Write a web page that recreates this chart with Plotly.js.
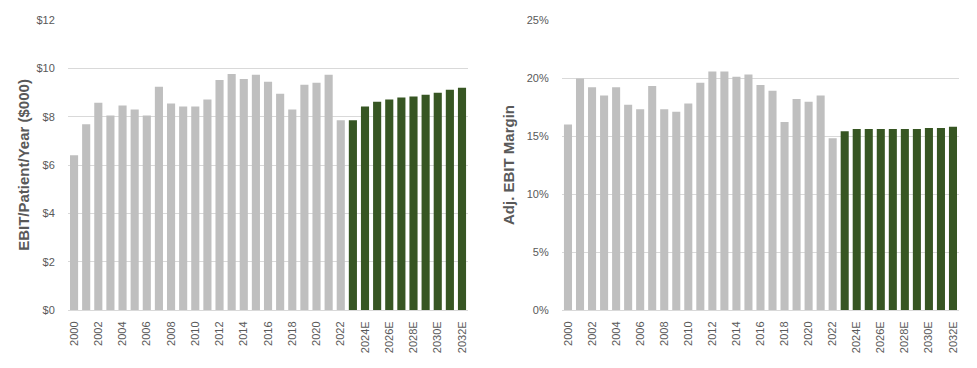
<!DOCTYPE html>
<html>
<head>
<meta charset="utf-8">
<script src="https://cdn.plot.ly/plotly-3.0.1.min.js"></script>
<style>
html,body{margin:0;padding:0;background:#fff;}
#chart{width:977px;height:368px;}
</style>
</head>
<body>
<div id="chart"></div>
<script>
const years = ["2000","2001","2002","2003","2004","2005","2006","2007","2008","2009","2010",
  "2011","2012","2013","2014","2015","2016","2017","2018","2019","2020","2021","2022",
  "2023E","2024E","2025E","2026E","2027E","2028E","2029E","2030E","2031E","2032E"];
const histCount = 23; // 2000-2022 historical (grey), rest projected (green)

const ebitPerPatient = [6.40,7.69,8.58,8.05,8.46,8.30,8.05,9.24,8.54,8.42,8.42,
  8.71,9.52,9.77,9.56,9.73,9.44,8.95,8.30,9.32,9.40,9.73,7.85,
  7.85,8.42,8.62,8.71,8.79,8.83,8.91,8.99,9.11,9.20];

const ebitMargin = [0.160,0.1995,0.192,0.185,0.192,0.177,0.173,0.193,0.173,0.171,0.178,
  0.196,0.2055,0.2055,0.201,0.203,0.194,0.189,0.162,0.182,0.1795,0.185,0.148,
  0.154,0.156,0.156,0.156,0.156,0.156,0.156,0.157,0.157,0.158];

const leftTicks = [0,2,4,6,8,10,12];
const leftTickText = ["$0","$2","$4","$6","$8","$10","$12"];
const rightTicks = [0,0.05,0.10,0.15,0.20,0.25];
const rightTickText = ["0%","5%","10%","15%","20%","25%"];

const GREY = "#bfbfbf", GREEN = "#375623";
const colors = years.map((y,i) => i < histCount ? GREY : GREEN);
const xTickVals = years.filter((y,i) => i % 2 === 0);

const FONT = "Liberation Sans, Arial, sans-serif";
const TXT = "#595959";
const GRID = "#d9d9d9";

const traces = [
  {type:"bar", x:years, y:ebitPerPatient, marker:{color:colors}, xaxis:"x", yaxis:"y",
   hoverinfo:"x+y"},
  {type:"bar", x:years, y:ebitMargin, marker:{color:colors}, xaxis:"x2", yaxis:"y2",
   hoverinfo:"x+y"}
];

const xCommon = {
  type:"category", tickmode:"array", tickvals:xTickVals, tickangle:-90,
  tickfont:{family:FONT,size:11,color:TXT}, showgrid:false, zeroline:false,
  showline:true, linecolor:GRID, linewidth:1, ticks:"outside", ticklen:6,
  tickcolor:"rgba(0,0,0,0)", fixedrange:true, automargin:false
};
const yCommon = {
  tickmode:"array", showgrid:true, gridcolor:GRID, gridwidth:1, zeroline:false,
  showline:false, tickfont:{family:FONT,size:11,color:TXT}, ticks:"outside",
  ticklen:10, tickcolor:"rgba(0,0,0,0)", fixedrange:true, automargin:false
};

const layout = {
  width:977, height:368,
  margin:{l:68, r:18, t:20, b:58},
  paper_bgcolor:"#fff", plot_bgcolor:"#fff",
  showlegend:false, bargap:0.33,
  xaxis: Object.assign({}, xCommon, {domain:[0,0.449], anchor:"y"}),
  xaxis2: Object.assign({}, xCommon, {domain:[0.5544,1], anchor:"y2"}),
  yaxis: Object.assign({}, yCommon, {
    domain:[0,1], anchor:"x", range:[0,12], tickvals:leftTicks, ticktext:leftTickText,
    title:{text:"EBIT/Patient/Year ($000)", font:{family:FONT,size:15,color:TXT,weight:"bold"}, standoff:3}
  }),
  yaxis2: Object.assign({}, yCommon, {
    domain:[0,1], anchor:"x2", range:[0,0.25], tickvals:rightTicks, ticktext:rightTickText,
    title:{text:"Adj. EBIT Margin", font:{family:FONT,size:15,color:TXT,weight:"bold"}, standoff:8}
  })
};

Plotly.newPlot("chart", traces, layout, {displayModeBar:false, staticPlot:true});
</script>
</body>
</html>
